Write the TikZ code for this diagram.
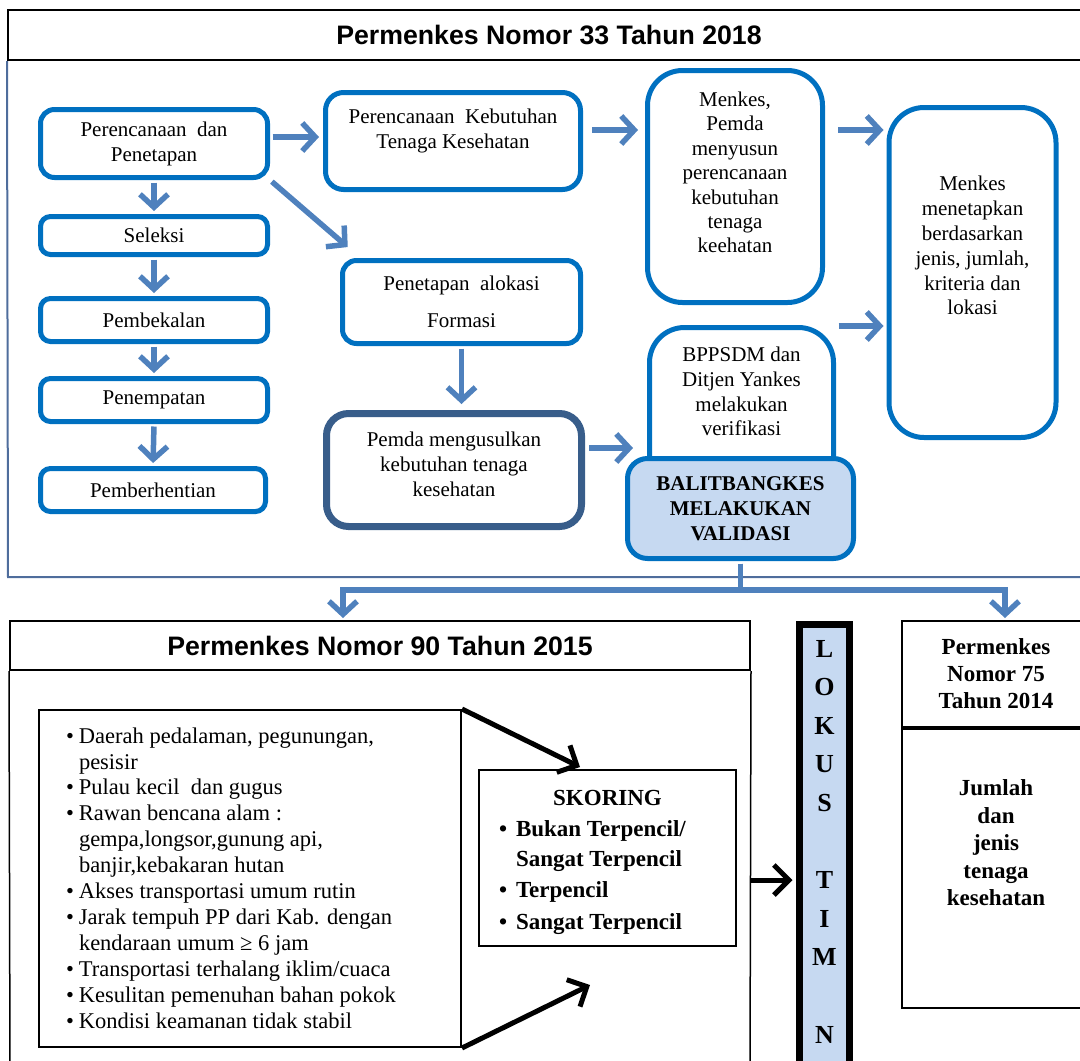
\documentclass[tikz,border=0pt]{standalone}
\usepackage{fontspec}
\setmainfont{Liberation Serif}
\newfontfamily\hdrfont{Liberation Sans}
\usetikzlibrary{arrows.meta,calc}
\definecolor{boxblue}{HTML}{0070C0}
\definecolor{arrblue}{HTML}{4F81BD}
\definecolor{darkblue}{HTML}{385D8A}
\definecolor{frameblue}{HTML}{4F6D9C}
\definecolor{lightfill}{HTML}{C6D9F1}
\newcommand{\tbox}[4]{\begin{minipage}[c][#2][t]{#1}\centering\vspace*{#3}#4\end{minipage}}
\setlength{\parindent}{0pt}
\begin{document}
\begin{tikzpicture}[x=1pt,y=-1pt,
  bbox/.style={draw=boxblue,line width=5pt,rounded corners=#1,fill=white,inner sep=0pt,align=center,font=\fontsize{21}{25}\selectfont},
  bbox/.default=12pt,
  barrow/.style={draw=arrblue,line width=5.5pt,shorten <=2.5pt,shorten >=3pt,-{Straight Barb[length=13pt,width=28pt]}},
  karrow/.style={draw=black,line width=5pt,-{Straight Barb[length=15pt,width=30pt]}},
  hdr/.style={draw=black,line width=2pt,inner sep=0pt,font=\hdrfont\bfseries\fontsize{26.7}{30}\selectfont},
  kbox/.style={draw=black,line width=2pt,inner sep=0pt}
]
\useasboundingbox (0,0) rectangle (1080,1061);

% ---------- top section ----------
\node[hdr,minimum width=1082pt,minimum height=50pt] (h1) at (549,35) {Permenkes Nomor 33 Tahun 2018};
\draw[frameblue,line width=2pt] (h1.south west) -- (8,577) -- (1090,577);

\node[bbox=14pt,minimum width=227pt,minimum height=68pt] (A) at (154,143.5) {Perencanaan\ \ dan\\Penetapan};
\node[bbox=10pt,minimum width=227pt,minimum height=38pt] (Sel) at (154,235.5) {Seleksi};
\node[bbox=10pt,minimum width=227pt,minimum height=43pt] (Pmb) at (154,320) {Pembekalan};
\node[bbox=10pt,minimum width=227pt,minimum height=43pt] (Pen) at (154,400) {Penempatan};
\node[bbox=10pt,minimum width=225pt,minimum height=43pt] (Pbh) at (153,490) {Pemberhentian};

\node[bbox=18pt] (B) at (453,141) {\tbox{255pt}{97pt}{13pt}{\strut Perencanaan\ \ Kebutuhan\\Tenaga Kesehatan}};
\node[bbox=14pt,minimum width=238pt,minimum height=83pt,font=\fontsize{21}{37}\selectfont] (Pa) at (461.5,302) {Penetapan\ \ alokasi\\Formasi};
\node[bbox=22pt,draw=darkblue,line width=7pt] (Pd) at (454,470) {\tbox{255pt}{113pt}{15pt}{\strut Pemda mengusulkan\\kebutuhan tenaga\\kesehatan}};

\node[bbox=35pt] (M1) at (735,186.5) {\tbox{175pt}{232pt}{19pt}{\fontsize{21}{24.4}\selectfont\strut Menkes,\\Pemda\\menyusun\\perencanaan\\kebutuhan\\tenaga\\keehatan}};
\node[bbox=35pt] (MR) at (972.5,272.5) {\tbox{167pt}{330pt}{66pt}{\fontsize{21}{24.8}\selectfont\strut Menkes\\menetapkan\\berdasarkan\\jenis, jumlah,\\kriteria dan\\lokasi}};
\node[bbox=35pt] (BP) at (741.5,434) {\tbox{184pt}{213pt}{17pt}{\fontsize{21}{24.7}\selectfont\strut BPPSDM dan\\Ditjen Yankes\\melakukan\\verifikasi}};
\node[bbox=20pt,fill=lightfill,minimum width=226pt,minimum height=100pt,font=\bfseries\fontsize{21}{25}\selectfont] (BAL) at (740.5,508.5) {BALITBANGKES\\MELAKUKAN\\VALIDASI};

% blue arrows
\draw[barrow,shorten >=4pt] (A.east |- 0,137) -- (B.west |- 0,137);
\draw[barrow] (A.south) -- (Sel.north);
\draw[barrow] (Sel.south) -- (Pmb.north);
\draw[barrow] (Pmb.south) -- (Pen.north);
\draw[barrow] (Pen.south) -- (Pbh.north);
\draw[barrow] (A.south east) -- ($(Pa.north west)+(10,-9)$);
\draw[barrow,shorten <=9pt,shorten >=7pt] (B.east |- 0,130) -- (M1.west |- 0,130);
\draw[barrow,shorten <=13pt] (M1.east |- 0,130) -- (MR.west |- 0,130);
\draw[barrow] (BP.east |- 0,326) -- (MR.west |- 0,326);
\draw[barrow,shorten >=6pt] (Pa.south) -- (Pa.south |- Pd.north);
\draw[barrow,shorten <=4pt,shorten >=14pt] (Pd.east |- 0,448) -- (BP.west |- 0,448);

\coordinate (t1) at (343,621);
\coordinate (t2) at (1005,621);
\draw[barrow] (BAL.south) -- ++(0,29) -| (t1);
\draw[barrow] (BAL.south) -- ++(0,29) -| (t2);

% ---------- bottom section ----------
\node[hdr,minimum width=740pt,minimum height=49pt] (h2) at (380,645.5) {Permenkes Nomor 90 Tahun 2015};
\draw[line width=1.5pt] (h2.south west) -- (10,1075);
\draw[line width=1.5pt] (h2.south east) -- (750,1075);

\node[kbox,anchor=north west] (lst) at (38,709) {\begin{minipage}[c][337pt][t]{422pt}\fontsize{22.5}{25.9}\selectfont\vspace*{15pt}%
\strut\hspace*{27pt}\makebox[13pt][l]{\textbullet}Daerah pedalaman, pegunungan,\\
\hspace*{40pt}pesisir\\
\hspace*{27pt}\makebox[13pt][l]{\textbullet}Pulau kecil\ \ dan gugus\\
\hspace*{27pt}\makebox[13pt][l]{\textbullet}Rawan bencana alam :\\
\hspace*{40pt}gempa,longsor,gunung api,\\
\hspace*{40pt}banjir,kebakaran hutan\\
\hspace*{27pt}\makebox[13pt][l]{\textbullet}Akses transportasi umum rutin\\
\hspace*{27pt}\makebox[13pt][l]{\textbullet}Jarak tempuh PP dari Kab. dengan\\
\hspace*{40pt}kendaraan umum ≥ 6 jam\\
\hspace*{27pt}\makebox[13pt][l]{\textbullet}Transportasi terhalang iklim/cuaca\\
\hspace*{27pt}\makebox[13pt][l]{\textbullet}Kesulitan pemenuhan bahan pokok\\
\hspace*{27pt}\makebox[13pt][l]{\textbullet}Kondisi keamanan tidak stabil
\end{minipage}};

\node[kbox,anchor=north west] (sk) at (478,769) {\begin{minipage}[c][176pt][t]{257pt}\bfseries\fontsize{23}{31.5}\selectfont\vspace*{13pt}%
\strut\hfill SKORING\hfill\mbox{}\\
\hspace*{20pt}\makebox[17pt][l]{\textbullet}Bukan Terpencil/\\[-2pt]
\hspace*{37pt}Sangat Terpencil\\
\hspace*{20pt}\makebox[17pt][l]{\textbullet}Terpencil\\
\hspace*{20pt}\makebox[17pt][l]{\textbullet}Sangat Terpencil
\end{minipage}};

\node[draw=black,line width=7pt,fill=lightfill,inner sep=0pt,anchor=north] (lok) at (824.5,620.5) {\begin{minipage}[c][470pt][t]{50pt}\centering\bfseries\fontsize{26}{38.6}\selectfont\vspace*{6pt}\strut L\\O\\K\\U\\S\\\mbox{}\\T\\I\\M\\\mbox{}\\N\end{minipage}};

\node[kbox,minimum width=188pt,minimum height=106pt,align=center,font=\bfseries\fontsize{23}{27}\selectfont] (p75) at (996,673.5) {Permenkes\\Nomor 75\\Tahun 2014};
\node[kbox,anchor=north] (p75b) at (p75.south) {\tbox{188pt}{279pt}{48pt}{\bfseries\fontsize{23}{27.5}\selectfont\strut Jumlah\\dan\\jenis\\tenaga\\kesehatan}};

% black arrows
\coordinate (k1) at (580,767);
\coordinate (k2) at (590,985);
\coordinate (fr) at (750,880);
\draw[karrow] (lst.north east) -- (k1);
\draw[karrow] (lst.south east) -- (k2);
\draw[karrow,shorten >=3.5pt] (fr) -- (fr -| lok.west);
\end{tikzpicture}
\end{document}
